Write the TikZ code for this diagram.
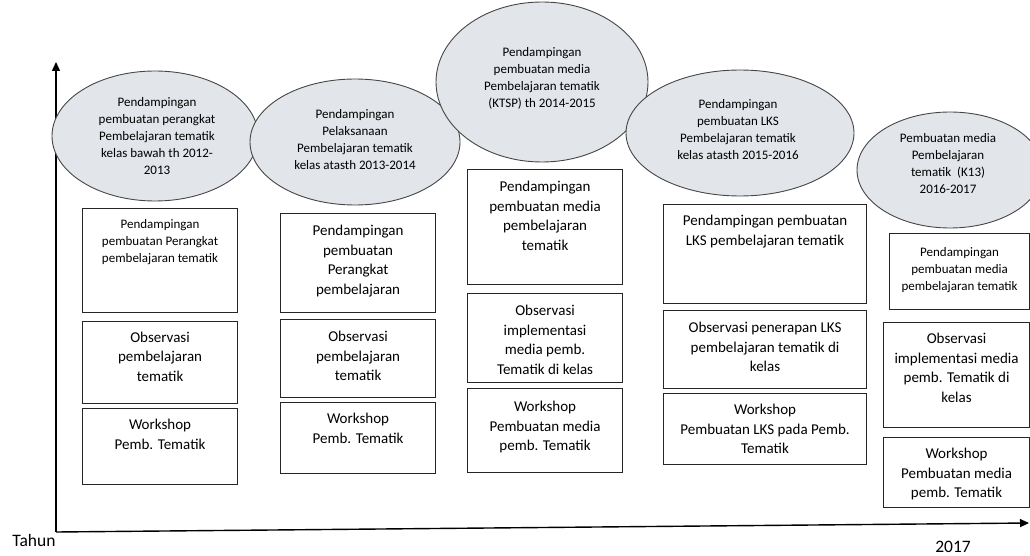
\documentclass[tikz,border=0pt]{standalone}
\usepackage{fontspec}
\setmainfont{Carlito}
\usepackage{tikz}
\usetikzlibrary{shapes.geometric, arrows.meta}
\definecolor{elipsisi}{RGB}{226,229,233}
\definecolor{elipsgaris}{RGB}{70,70,70}
\newcommand{\hurufkecil}{\fontsize{13}{17}\selectfont}
\newcommand{\hurufbesar}{\fontsize{15}{19.5}\selectfont}
\newcommand{\hurufsumbu}{\fontsize{17.5}{20}\selectfont}
\tikzset{
  elips/.style={ellipse, draw=elipsgaris, fill=elipsisi, line width=0.9pt, inner sep=0pt},
  teksel/.style={align=center, inner sep=0pt, font=\hurufkecil},
  kotak/.style={draw=black!85, line width=1.1pt, anchor=north west, inner sep=0pt},
  isi/.style={anchor=north, align=center, inner sep=0pt, font=\hurufbesar},
  isikecil/.style={isi, font=\hurufkecil},
  sumbu/.style={line width=1.4pt, -{Triangle[length=9pt, width=8pt]}},
}

\begin{document}
\begin{tikzpicture}[x=1pt, y=-1pt]
\useasboundingbox (0,0) rectangle (1030,556);

% sumbu
\coordinate (asal) at (56,532);
\coordinate (atas) at (56,62);
\coordinate (kanan) at (1029,523);
\draw[sumbu] (asal) -- (atas);
\draw[sumbu] (asal) -- (kanan);
\node[font=\hurufsumbu, inner sep=0pt] (tahun) at (34,540) {Tahun};
\node[font=\hurufsumbu, inner sep=0pt] (akhir) at (953,547) {2017};

% kegiatan per tahun
\node[elips, minimum width=206, minimum height=130] (e1) at (155,136) {};
\node[teksel] (te1) at (157,136) {Pendampingan\\pembuatan perangkat\\Pembelajaran tematik\\kelas bawah th 2012-\\2013};
\node[elips, minimum width=210, minimum height=126] (e2) at (355,142) {};
\node[teksel] (te2) at (355,140) {Pendampingan\\Pelaksanaan\\Pembelajaran tematik\\kelas atasth 2013-2014};
\node[elips, minimum width=212, minimum height=160] (e3) at (542,82) {};
\node[teksel] (te3) at (542,78) {Pendampingan\\pembuatan media\\Pembelajaran tematik\\(KTSP) th 2014-2015};
\node[elips, minimum width=228, minimum height=126] (e4) at (740,133) {};
\node[teksel] (te4) at (738,130) {Pendampingan\\pembuatan LKS\\Pembelajaran tematik\\kelas atasth 2015-2016};
\node[elips, minimum width=186, minimum height=116] (e5) at (950,170) {};
\node[teksel] (te5) at (948,164) {Pembuatan media\\Pembelajaran\\tematik\ \ (K13)\\2016-2017};

% kolom 2012-2013
\node[kotak, minimum width=155, minimum height=104] (b1a) at (82,208) {};
\node[kotak, minimum width=155, minimum height=82] (b1b) at (82,321) {};
\node[kotak, minimum width=155, minimum height=76] (b1c) at (82,408) {};
\node[isikecil] at ([yshift=-11pt]b1a.north) {Pendampingan\\pembuatan Perangkat\\pembelajaran tematik};
\node[isi] at ([yshift=-10.5pt]b1b.north) {Observasi\\pembelajaran\\tematik};
\node[isi] at ([yshift=-11pt]b1c.north) {Workshop\\Pemb. Tematik};

% kolom 2013-2014
\node[kotak, minimum width=155, minimum height=99] (b2a) at (280,213) {};
\node[kotak, minimum width=155, minimum height=78] (b2b) at (280,319) {};
\node[kotak, minimum width=155, minimum height=71] (b2c) at (280,402) {};
\node[isi] at ([yshift=-12pt]b2a.north) {Pendampingan\\pembuatan\\Perangkat\\pembelajaran};
\node[isi] at ([yshift=-12pt]b2b.north) {Observasi\\pembelajaran\\tematik};
\node[isi] at ([yshift=-11pt]b2c.north) {Workshop\\Pemb. Tematik};

% kolom 2014-2015
\node[kotak, minimum width=155, minimum height=115] (b3a) at (467,169) {};
\node[kotak, minimum width=155, minimum height=89] (b3b) at (467,293) {};
\node[kotak, minimum width=155, minimum height=84] (b3c) at (467,388) {};
\node[isi] at ([yshift=-12pt]b3a.north) {Pendampingan\\pembuatan media\\pembelajaran\\tematik};
\node[isi] at ([yshift=-12pt]b3b.north) {Observasi\\implementasi\\media pemb.\\Tematik di kelas};
\node[isi] at ([yshift=-13pt]b3c.north) {Workshop\\Pembuatan media\\pemb. Tematik};

% kolom 2015-2016
\node[kotak, minimum width=203, minimum height=99] (b4a) at (663,204) {};
\node[kotak, minimum width=203, minimum height=78] (b4b) at (663,310) {};
\node[kotak, minimum width=203, minimum height=71] (b4c) at (663,393) {};
\node[isi] at ([yshift=-11pt]b4a.north) {Pendampingan pembuatan\\LKS pembelajaran tematik};
\node[isi] at ([yshift=-12pt]b4b.north) {Observasi penerapan LKS\\pembelajaran tematik di\\kelas};
\node[isi] at ([yshift=-11pt]b4c.north) {Workshop\\Pembuatan LKS pada Pemb.\\Tematik};

% kolom 2016-2017
\node[kotak, minimum width=140, minimum height=76] (b5a) at (889,233) {};
\node[kotak, minimum width=146, minimum height=105] (b5b) at (883,322) {};
\node[kotak, minimum width=146, minimum height=70] (b5c) at (883,437) {};
\node[isikecil] at ([yshift=-14pt]b5a.north) {Pendampingan\\pembuatan media\\pembelajaran tematik};
\node[isi] at ([yshift=-11pt]b5b.north) {Observasi\\implementasi media\\pemb. Tematik di\\kelas};
\node[isi] at ([yshift=-11pt]b5c.north) {Workshop\\Pembuatan media\\pemb. Tematik};
\end{tikzpicture}
\end{document}
